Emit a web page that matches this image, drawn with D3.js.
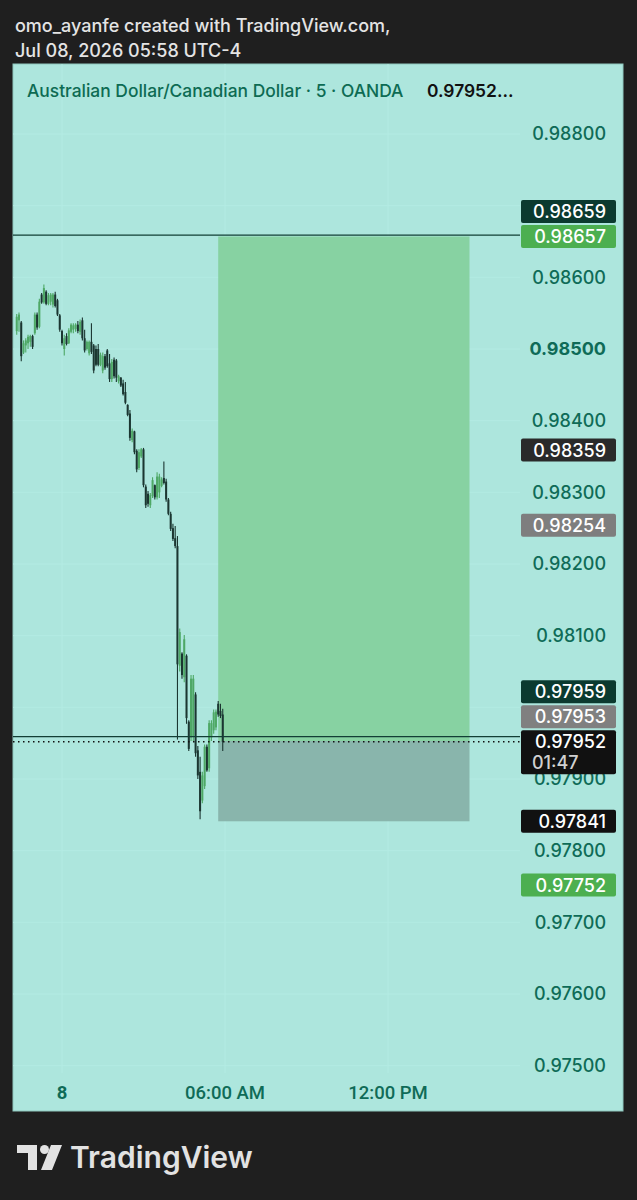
<!DOCTYPE html>
<html>
<head>
<meta charset="utf-8">
<script src="https://cdn.jsdelivr.net/npm/d3@7"></script>
<style>
	body { margin: 0; background: #1f1f1f; }
	svg { display: block; font-family: Inter, "Noto Sans", sans-serif; }
</style>
</head>
<body>
<svg id="chart" width="637" height="1200"></svg>
<script>
'use strict';

// 5 minute bars AUDCAD, first bar Jul 7 22:20 (UTC-4)
const startTime = Date.UTC(2026, 6, 7, 22, 20);

const opens = [
	0.98525, 0.98540, 0.98537, 0.98495, 0.98505, 0.98508, 0.98510, 0.98518, 0.98522, 0.98548,
	0.98531, 0.98576, 0.98565, 0.98580, 0.98563, 0.98566, 0.98562, 0.98576, 0.98568, 0.98547,
	0.98525, 0.98500, 0.98518, 0.98508, 0.98524, 0.98527, 0.98528, 0.98534, 0.98524, 0.98540,
	0.98515, 0.98500, 0.98494, 0.98510, 0.98505, 0.98500, 0.98500, 0.98478, 0.98470, 0.98490,
	0.98498, 0.98480, 0.98458, 0.98485, 0.98484, 0.98455, 0.98460, 0.98452, 0.98440, 0.98422,
	0.98410, 0.98373, 0.98385, 0.98358, 0.98334, 0.98350, 0.98360, 0.98308, 0.98298, 0.98282,
	0.98295, 0.98310, 0.98293, 0.98300, 0.98309, 0.98320, 0.98315, 0.98290, 0.98270, 0.98250,
	0.98236, 0.98225, 0.98058, 0.98075, 0.98042, 0.98072, 0.97980, 0.97958, 0.97960, 0.98018,
	0.97940, 0.97910, 0.97870, 0.97890, 0.97945, 0.97915, 0.97958, 0.97968, 0.97972, 0.98005,
	0.97995, 0.97990
];
const highs = [
	0.98549, 0.98551, 0.98539, 0.98512, 0.98515, 0.98520, 0.98520, 0.98520, 0.98551, 0.98551,
	0.98570, 0.98578, 0.98590, 0.98582, 0.98578, 0.98578, 0.98578, 0.98580, 0.98570, 0.98549,
	0.98527, 0.98520, 0.98522, 0.98529, 0.98536, 0.98536, 0.98536, 0.98539, 0.98541, 0.98544,
	0.98527, 0.98512, 0.98512, 0.98536, 0.98507, 0.98505, 0.98507, 0.98495, 0.98495, 0.98493,
	0.98500, 0.98493, 0.98486, 0.98488, 0.98486, 0.98464, 0.98461, 0.98457, 0.98454, 0.98423,
	0.98415, 0.98389, 0.98386, 0.98360, 0.98360, 0.98362, 0.98362, 0.98311, 0.98302, 0.98299,
	0.98321, 0.98311, 0.98328, 0.98326, 0.98321, 0.98343, 0.98319, 0.98292, 0.98273, 0.98256,
	0.98253, 0.98239, 0.98110, 0.98077, 0.98101, 0.98074, 0.97982, 0.98045, 0.98045, 0.98021,
	0.97946, 0.97931, 0.97910, 0.97948, 0.97948, 0.97982, 0.97982, 0.97997, 0.97997, 0.98009,
	0.98005, 0.97998
];
const lows = [
	0.98520, 0.98524, 0.98483, 0.98493, 0.98495, 0.98500, 0.98503, 0.98500, 0.98520, 0.98527,
	0.98529, 0.98563, 0.98563, 0.98561, 0.98561, 0.98561, 0.98558, 0.98558, 0.98546, 0.98524,
	0.98505, 0.98491, 0.98505, 0.98507, 0.98522, 0.98522, 0.98524, 0.98522, 0.98520, 0.98512,
	0.98495, 0.98498, 0.98491, 0.98493, 0.98466, 0.98476, 0.98476, 0.98476, 0.98466, 0.98471,
	0.98474, 0.98454, 0.98454, 0.98459, 0.98454, 0.98452, 0.98447, 0.98435, 0.98423, 0.98406,
	0.98372, 0.98370, 0.98353, 0.98328, 0.98331, 0.98348, 0.98307, 0.98278, 0.98280, 0.98278,
	0.98292, 0.98290, 0.98290, 0.98292, 0.98307, 0.98311, 0.98287, 0.98268, 0.98246, 0.98232,
	0.98222, 0.97955, 0.98050, 0.98040, 0.98035, 0.97977, 0.97939, 0.97953, 0.97953, 0.97931,
	0.97900, 0.97844, 0.97866, 0.97886, 0.97910, 0.97910, 0.97953, 0.97963, 0.97968, 0.97987,
	0.97985, 0.97939
];
const closes = [
	0.98545, 0.98548, 0.98490, 0.98508, 0.98512, 0.98517, 0.98518, 0.98503, 0.98548, 0.98530,
	0.98566, 0.98565, 0.98585, 0.98563, 0.98575, 0.98576, 0.98576, 0.98560, 0.98548, 0.98527,
	0.98508, 0.98515, 0.98507, 0.98526, 0.98534, 0.98533, 0.98534, 0.98525, 0.98538, 0.98515,
	0.98498, 0.98510, 0.98510, 0.98496, 0.98470, 0.98478, 0.98478, 0.98492, 0.98490, 0.98474,
	0.98476, 0.98458, 0.98482, 0.98462, 0.98460, 0.98462, 0.98449, 0.98437, 0.98425, 0.98408,
	0.98376, 0.98386, 0.98356, 0.98332, 0.98356, 0.98360, 0.98310, 0.98282, 0.98284, 0.98296,
	0.98317, 0.98293, 0.98322, 0.98322, 0.98318, 0.98313, 0.98290, 0.98270, 0.98249, 0.98235,
	0.98225, 0.98060, 0.98105, 0.98045, 0.98095, 0.97985, 0.97942, 0.98040, 0.98040, 0.97936,
	0.97905, 0.97855, 0.97905, 0.97945, 0.97912, 0.97978, 0.97978, 0.97993, 0.97994, 0.97990,
	0.97988, 0.97952
];

const priceTicks = [0.988, 0.987, 0.986, 0.985, 0.984, 0.983, 0.982, 0.981, 0.980, 0.979, 0.978, 0.977, 0.976, 0.975];
const boldTick = 0.985;
const timeTicks = [Date.UTC(2026, 6, 8, 0, 0), Date.UTC(2026, 6, 8, 6, 0), Date.UTC(2026, 6, 8, 12, 0)];
const timeLabels = ["8", "06:00 AM", "12:00 PM"];

// drawn horizontal lines and the long position
const hLines = [0.98659, 0.97959];
const lastPrice = 0.97952;
const countdown = "01:47";
const position = { start: Date.UTC(2026, 6, 8, 5, 45), end: Date.UTC(2026, 6, 8, 15, 0), entry: 0.97953, target: 0.98657, stop: 0.97841 };

// price scale badges
const badgeValues = [0.98659, 0.98657, 0.98359, 0.98254, 0.97959, 0.97953, 0.97952, 0.97841, 0.97752];
const badgeFills = ["#0b3a2f", "#4caf50", "#2a2a2a", "#7e7e7e", "#0b3a2f", "#808080", "#111111", "#111111", "#4caf50"];

(function () {

	const svg = d3.select("#chart");
	const panel = { x: 13, y: 64, w: 610, h: 1047 };
	const paneRight = 520, paneBottom = 1073;

	const y = d3.scaleLinear().domain([0.985, 0.988]).range([349, 134]);
	const x = d3.scaleUtc().domain([timeTicks[0], timeTicks[1]]).range([62, 225]);
	const fmt = d3.format(".5f");

	// header
	svg.append("text").attr("x", 15).attr("y", 32)
		.attr("fill", "#e4e4e4").style("font-size", "18px").style("font-weight", 500)
		.text("omo_ayanfe created with TradingView.com,");
	svg.append("text").attr("x", 15).attr("y", 57)
		.attr("fill", "#e4e4e4").style("font-size", "18px").style("font-weight", 500)
		.text("Jul 08, 2026 05:58 UTC-4");

	svg.append("rect")
		.attr("x", panel.x).attr("y", panel.y).attr("width", panel.w).attr("height", panel.h)
		.attr("fill", "#ade6dd").attr("stroke", "#8fc8be").attr("stroke-width", 1);

	svg.append("clipPath").attr("id", "pane")
		.append("rect").attr("x", panel.x).attr("y", panel.y).attr("width", paneRight - panel.x).attr("height", paneBottom - panel.y);
	svg.append("clipPath").attr("id", "scale")
		.append("rect").attr("x", paneRight).attr("y", panel.y).attr("width", panel.x + panel.w - paneRight).attr("height", paneBottom - panel.y);

	const pane = svg.append("g").attr("clip-path", "url(#pane)");

	// grid
	pane.selectAll("line.hgrid").data(priceTicks).enter().append("line")
		.attr("x1", panel.x).attr("x2", paneRight)
		.attr("y1", d => y(d)).attr("y2", d => y(d))
		.attr("stroke", "#b3ebe3").attr("stroke-width", 1);
	pane.selectAll("line.vgrid").data(timeTicks).enter().append("line")
		.attr("x1", d => x(d)).attr("x2", d => x(d))
		.attr("y1", panel.y).attr("y2", paneBottom)
		.attr("stroke", "#b3ebe3").attr("stroke-width", 1);

	// long position box
	const px0 = x(position.start), px1 = x(position.end);
	pane.append("rect")
		.attr("x", px0).attr("width", px1 - px0)
		.attr("y", y(position.target)).attr("height", y(position.entry) - y(position.target))
		.attr("fill", "#87d2a2");
	pane.append("rect")
		.attr("x", px0).attr("width", px1 - px0)
		.attr("y", y(position.entry)).attr("height", y(position.stop) - y(position.entry))
		.attr("fill", "#89b5ac");

	// candles
	const bars = opens.map((o, i) => ({
		t: new Date(startTime + i * 5 * 60000), o: o, h: highs[i], l: lows[i], c: closes[i]
	}));
	const up = "#4ea865", down = "#1b3631";
	const gBar = pane.selectAll("g.bar").data(bars).enter().append("g");
	gBar.append("line")
		.attr("x1", d => x(d.t)).attr("x2", d => x(d.t))
		.attr("y1", d => y(d.h)).attr("y2", d => y(d.l))
		.attr("stroke", d => d.c >= d.o ? up : down).attr("stroke-width", 1.1);
	gBar.append("rect")
		.attr("x", d => x(d.t) - 1).attr("width", 2)
		.attr("y", d => y(Math.max(d.o, d.c)))
		.attr("height", d => Math.max(1, Math.abs(y(d.o) - y(d.c))))
		.attr("fill", d => d.c >= d.o ? up : down);

	// horizontal lines
	pane.selectAll("line.hl").data(hLines).enter().append("line")
		.attr("x1", panel.x).attr("x2", paneRight)
		.attr("y1", d => y(d)).attr("y2", d => y(d))
		.attr("stroke", "#123f35").attr("stroke-width", 1.2);
	pane.append("line")
		.attr("x1", panel.x).attr("x2", paneRight)
		.attr("y1", y(lastPrice)).attr("y2", y(lastPrice))
		.attr("stroke", "#111").attr("stroke-width", 1.3).attr("stroke-dasharray", "1.5,3.5");

	// title
	svg.append("text").attr("x", 27).attr("y", 97)
		.attr("fill", "#0d6b53").style("font-size", "17.4px").style("font-weight", 500)
		.text("Australian Dollar/Canadian Dollar · 5 · OANDA");
	svg.append("text").attr("x", 427).attr("y", 97)
		.attr("fill", "#111").style("font-size", "17.4px").style("font-weight", 600)
		.text(fmt(lastPrice) + "...");

	// badges: stacked upward from the bottom so they do not overlap
	const bh = 23, gap = 2;
	const badges = badgeValues.map((v, i) => ({ v: v, fill: badgeFills[i], last: v === lastPrice }))
		.sort((a, b) => a.v - b.v);
	let prevTop = Infinity;
	badges.forEach(b => {
		const h = b.last ? 2 * bh - 2 : bh;
		b.top = Math.min(y(b.v) - bh / 2, prevTop - gap - h);
		b.h = h;
		prevTop = b.top;
	});

	// price axis, ticks hidden under a badge are skipped
	const covered = v => badges.some(b => y(v) >= b.top - gap && y(v) <= b.top + b.h + gap);
	const scale = svg.append("g").attr("clip-path", "url(#scale)");
	scale.selectAll("text.tick").data(priceTicks.filter(v => !covered(v))).enter().append("text")
		.attr("x", 606).attr("y", d => y(d)).attr("dy", "0.36em")
		.attr("text-anchor", "end")
		.attr("fill", "#0f6b57")
		.style("font-size", "18px")
		.style("font-weight", d => d === boldTick ? 700 : 500)
		.text(d => fmt(d));

	const gBadge = svg.selectAll("g.badge").data(badges).enter().append("g");
	gBadge.append("rect")
		.attr("x", 521).attr("width", 95)
		.attr("y", d => d.top).attr("height", d => d.h)
		.attr("rx", 2).attr("fill", d => d.fill);
	gBadge.append("text")
		.attr("x", 606).attr("y", d => d.top + bh / 2).attr("dy", "0.36em")
		.attr("text-anchor", "end").attr("fill", "#fff")
		.style("font-size", "18px").style("font-weight", 500)
		.text(d => fmt(d.v));
	gBadge.filter(d => d.last).append("text")
		.attr("x", 532).attr("y", d => d.top + bh * 1.5 - 2).attr("dy", "0.36em")
		.attr("fill", "#d0d0d0")
		.style("font-size", "18px").style("font-weight", 500)
		.text(countdown);

	// time axis
	svg.selectAll("text.time").data(timeTicks).enter().append("text")
		.attr("x", d => x(d)).attr("y", 1099)
		.attr("text-anchor", "middle")
		.attr("fill", "#0f6b57")
		.style("font-family", "Roboto, sans-serif")
		.style("font-size", "18.5px")
		.style("font-weight", (d, i) => i === 0 ? 700 : 500)
		.text((d, i) => timeLabels[i]);

	// TradingView logo
	const logo = svg.append("g").attr("fill", "#e2e2e2");
	logo.append("path").attr("d", "M17,1145 H37 V1170 H28 V1153 H17 Z");
	logo.append("circle").attr("cx", 44.5).attr("cy", 1149.5).attr("r", 4.5);
	logo.append("path").attr("d", "M51,1145 H62 L52,1170 H41 Z");
	logo.append("text").attr("x", 70).attr("y", 1168)
		.style("font-size", "30px").style("font-weight", 600)
		.text("TradingView");

})();
</script>
</body>
</html>
